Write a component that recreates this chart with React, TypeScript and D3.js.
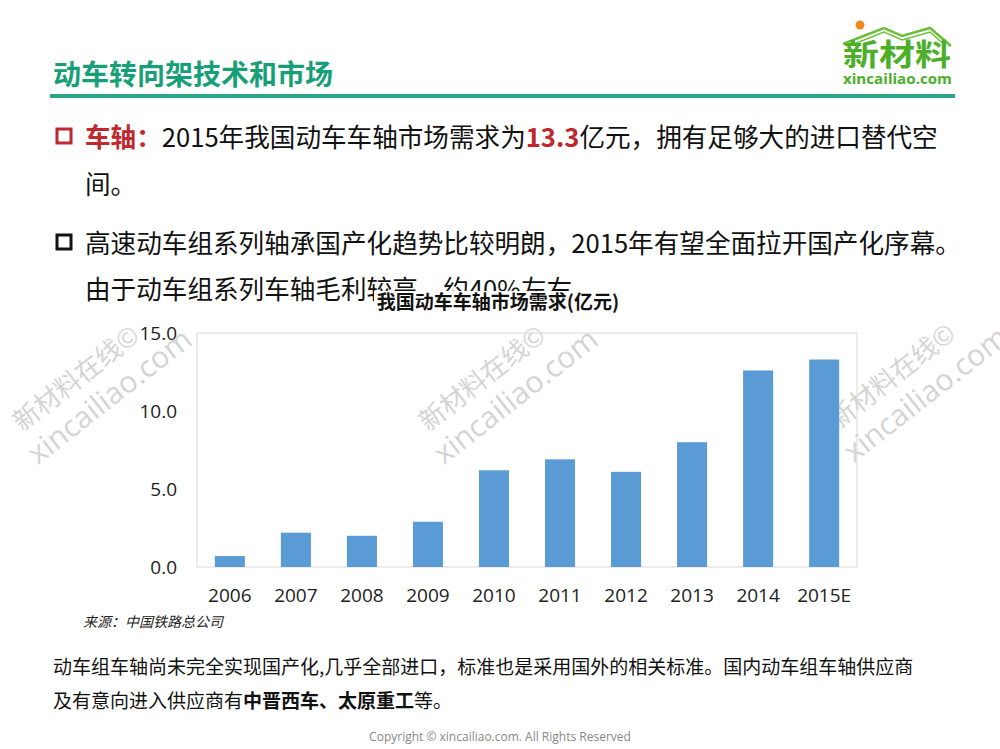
import React from "react";
import * as d3 from "d3";

const years = ["2006", "2007", "2008", "2009", "2010", "2011", "2012", "2013", "2014", "2015E"];
const demand = [0.7, 2.2, 2.0, 2.9, 6.2, 6.9, 6.1, 8.0, 12.6, 13.3];
const yTicks = [0, 5, 10, 15];

const W = 1000;
const H = 749;
const plot = { left: 197, right: 857, top: 333, bottom: 567 };
const CJK = "'Noto Sans CJK SC', 'Noto Sans', sans-serif";
const GREEN = "#17a078";
const RED = "#c0282d";

function Watermark({ x, y }: { x: number; y: number }) {
  return (
    <g transform={`translate(${x},${y}) rotate(-38)`} fill="#d4d4d4" fontFamily={CJK}>
      <text x={0} y={0} fontSize={26}>新材料在线©</text>
      <text x={-8} y={36} fontSize={30} fontFamily="'Open Sans', sans-serif">xincailiao.com</text>
    </g>
  );
}

export default function App() {
  const x = d3.scaleBand<string>().domain(years).range([plot.left, plot.right]).paddingInner(0.545).paddingOuter(0.27);
  const y = d3.scaleLinear().domain([0, 15]).range([plot.bottom, plot.top]);

  return (
    <svg width={W} height={H} style={{ position: "absolute", left: 0, top: 0, background: "#fff" }} fontFamily={CJK}>
      <rect x={0} y={0} width={W} height={H} fill="#fff" />

      {/* header */}
      <text x={53} y={85} fontSize={28} fontWeight="bold" fill={GREEN}>动车转向架技术和市场</text>
      <rect x={50} y={94} width={905} height={4} fill="#2aa585" />

      {/* logo */}
      <circle cx={860} cy={25} r={4.5} fill="#f08a1c" />
      <polyline points="843,44 884,28 902,36 930,28 951,46" fill="none" stroke="#6dbf3a" strokeWidth={2.5} />
      <polyline points="849,46 884,32 902,40 930,32 946,46" fill="none" stroke="#6dbf3a" strokeWidth={1.5} />
      <text x={843} y={65} fontSize={30} fontWeight="bold" fill="#4caf2a" textLength={108} lengthAdjust="spacingAndGlyphs">新材料</text>
      <text x={843} y={84} fontSize={14} fontWeight="bold" fill="#4caf2a" textLength={109} lengthAdjust="spacingAndGlyphs" fontFamily="'Open Sans', sans-serif">xincailiao.com</text>

      {/* bullets */}
      <rect x={57} y={129} width={14} height={14} fill="none" stroke={RED} strokeWidth={3} />
      <text x={85} y={147} fontSize={25.6} fill="#111">
        <tspan fill={RED} fontWeight="bold">车轴：</tspan>
        <tspan>2015年我国动车车轴市场需求为</tspan>
        <tspan fill={RED} fontWeight="bold">13.3</tspan>
        <tspan>亿元，拥有足够大的进口替代空</tspan>
      </text>
      <text x={85} y={194} fontSize={25.6} fill="#111">间。</text>

      <rect x={57} y={235} width={14} height={14} fill="none" stroke="#111" strokeWidth={3} />
      <text x={85} y={253} fontSize={25.6} fill="#111">高速动车组系列轴承国产化趋势比较明朗，2015年有望全面拉开国产化序幕。</text>
      <text x={85} y={299} fontSize={25.6} fill="#111">由于动车组系列车轴毛利较高，约40%左右。</text>

      {/* watermarks */}
      <Watermark x={22} y={432} />
      <Watermark x={428} y={432} />
      <Watermark x={838} y={430} />

      {/* chart title box covering text */}
      <rect x={374} y={291} width={252} height={26} fill="#fff" />
      <text x={498} y={309} fontSize={19} fontWeight="bold" textAnchor="middle" fill="#111">我国动车车轴市场需求(亿元)</text>

      {/* plot frame */}
      <rect x={plot.left} y={plot.top} width={plot.right - plot.left} height={plot.bottom - plot.top} fill="none" stroke="#d9d9d9" strokeWidth={1} />

      {/* bars */}
      {years.map((yr, i) => (
        <rect key={yr} x={x(yr)} y={y(demand[i])} width={x.bandwidth()} height={y(0) - y(demand[i])} fill="#5b9bd5" />
      ))}

      {/* y axis labels */}
      {yTicks.map((t) => (
        <text key={t} x={177} y={y(t) + 7} fontSize={19} textAnchor="end" fill="#222" fontFamily="'Open Sans', sans-serif">{t.toFixed(1)}</text>
      ))}

      {/* x axis labels */}
      {years.map((yr) => (
        <text key={yr} x={(x(yr) as number) + x.bandwidth() / 2} y={602} fontSize={19} textAnchor="middle" fill="#222" fontFamily="'Open Sans', sans-serif">{yr}</text>
      ))}

      <text x={83} y={627} fontSize={14} fontStyle="italic" fill="#222">来源：中国铁路总公司</text>

      <text x={53} y={674} fontSize={19} fill="#111">动车组车轴尚未完全实现国产化,几乎全部进口，标准也是采用国外的相关标准。国内动车组车轴供应商</text>
      <text x={53} y={708} fontSize={19} fill="#111">
        <tspan>及有意向进入供应商有</tspan>
        <tspan fontWeight="bold">中晋西车、太原重工</tspan>
        <tspan>等。</tspan>
      </text>

      <text x={500} y={741} fontSize={12} fill="#888" textAnchor="middle" fontFamily="'Open Sans', sans-serif">Copyright © xincailiao.com. All Rights Reserved</text>
    </svg>
  );
}
